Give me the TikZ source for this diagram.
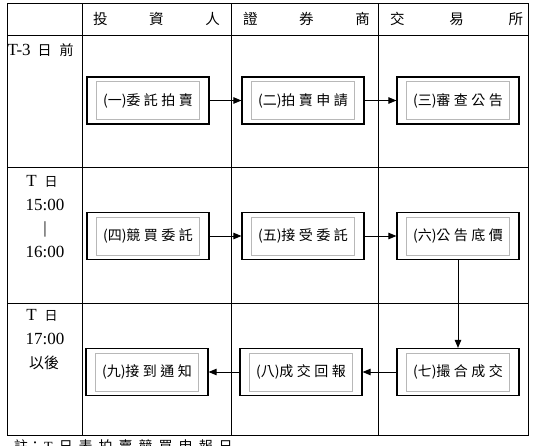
\documentclass[tikz,border=0pt]{standalone}
\usepackage{fontspec}
\setmainfont{Liberation Serif}
\newfontfamily\cjk{Noto Sans CJK TC}
\usetikzlibrary{arrows.meta}
\newcommand\flowbox[7]{%
  \node[stepbox] (#1) at (#2) {(#3)#4\hspace{3.5pt}#5\hspace{3.5pt}#6\hspace{3.5pt}#7};
  \draw[innerbox] ([xshift=10pt,yshift=5pt]#1.south west) rectangle ([xshift=-10pt,yshift=-5pt]#1.north east);}
\begin{document}
\begin{tikzpicture}[x=1pt,y=-1pt,
  gridline/.style={line width=1pt, black},
  stepbox/.style={draw, line width=1.2pt, minimum width=122pt, minimum height=47pt, inner sep=0pt,
    font=\cjk\fontsize{14}{16}\selectfont},
  innerbox/.style={draw=black!28, line width=0.8pt},
  arr/.style={line width=0.9pt, -{Triangle[length=8pt,width=6.5pt]}},
  hdr/.style={inner sep=0pt, font=\cjk\fontsize{14.5}{16}\selectfont},
  timetxt/.style={inner sep=0pt, font=\fontsize{17}{20}\selectfont},
  note/.style={inner sep=0pt, anchor=north west, font=\cjk\fontsize{14}{16}\selectfont}
]
\useasboundingbox (0,0) rectangle (536,445);
% table grid
\draw[gridline] (7,3) rectangle (528,435);
\draw[gridline] (7,35) -- (528,35);
\draw[gridline] (7,167) -- (528,167);
\draw[gridline] (7,303) -- (528,303);
\draw[gridline] (82,3) -- (82,435);
\draw[gridline] (231,3) -- (231,435);
\draw[gridline] (378,3) -- (378,435);
% header
\node[hdr] (h1) at (156.5,19) {\makebox[127pt]{投\hfill 資\hfill 人}};
\node[hdr] (h2) at (306.5,19) {\makebox[127pt]{證\hfill 券\hfill 商}};
\node[hdr] (h3) at (456.5,19) {\makebox[133pt]{交\hfill 易\hfill 所}};
% time column
\node[timetxt, anchor=west] (t1) at (7.5,50) {T-3\hspace{7pt}{\cjk\fontsize{14}{16}\selectfont 日\hspace{8pt}前}};
\node[timetxt] (t2a) at (42,181) {T\hspace{8pt}{\cjk\fontsize{13}{16}\selectfont 日}};
\node[timetxt] (t2b) at (45,205) {15:00};
\node[timetxt] (t2c) at (45,229) {|};
\node[timetxt] (t2d) at (45,252) {16:00};
\node[timetxt] (t3a) at (42,315) {T\hspace{8pt}{\cjk\fontsize{13}{16}\selectfont 日}};
\node[timetxt] (t3b) at (45,338.5) {17:00};
\node[timetxt] (t3c) at (44,362.5) {\cjk\fontsize{15}{16}\selectfont 以後};
% boxes
\flowbox{b1}{148,100.5}{一}{委}{託}{拍}{賣}
\flowbox{b2}{303,100.5}{二}{拍}{賣}{申}{請}
\flowbox{b3}{458,100.5}{三}{審}{查}{公}{告}
\flowbox{b4}{148,236}{四}{競}{買}{委}{託}
\flowbox{b5}{303,236}{五}{接}{受}{委}{託}
\flowbox{b6}{458,236}{六}{公}{告}{底}{價}
\flowbox{b9}{147,372}{九}{接}{到}{通}{知}
\flowbox{b8}{301,372}{八}{成}{交}{回}{報}
\flowbox{b7}{458,372}{七}{撮}{合}{成}{交}
% arrows
\draw[arr] (b1) -- (b2);
\draw[arr] (b2) -- (b3);
\draw[arr] (b4) -- (b5);
\draw[arr] (b5) -- (b6);
\draw[arr] (b6) -- (b7);
\draw[arr] (b7) -- (b8);
\draw[arr] (b8) -- (b9);
% note (cut off at bottom edge, as in the reference)
\node[note] (nt) at (14,439.5) {註：\hspace{2pt}{\rmfamily T}\hspace{6pt}日\hspace{6pt}表\hspace{6pt}拍\hspace{6pt}賣\hspace{6pt}競\hspace{6pt}買\hspace{6pt}申\hspace{6pt}報\hspace{6pt}日};
\end{tikzpicture}
\end{document}
